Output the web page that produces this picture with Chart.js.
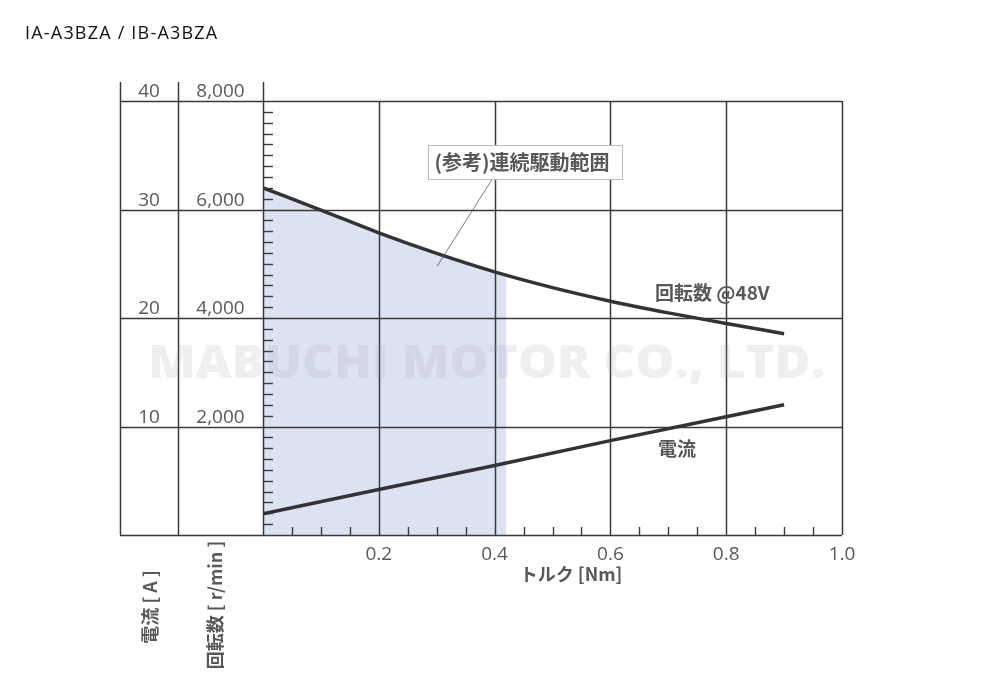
<!DOCTYPE html>
<html lang="ja">
<head>
<meta charset="utf-8">
<title>IA-A3BZA / IB-A3BZA</title>
<script src="https://cdn.jsdelivr.net/npm/chart.js@4.4.1/dist/chart.umd.min.js"></script>
<style>
  html, body { margin: 0; padding: 0; background: #fff; }
  #wrap { position: relative; width: 1000px; height: 692px; }
  #title {
    position: absolute; left: 25px; top: 20px;
    font: 18px 'Open Sans', sans-serif; letter-spacing: 1.2px; color: #111;
  }
  canvas { display: block; }
</style>
</head>
<body>
<div id="wrap">
  <div id="title">IA-A3BZA / IB-A3BZA</div>
  <canvas id="chart" width="1000" height="692"></canvas>
</div>
<script>
// torque [Nm] vs speed [r/min]
const torque = [0, 0.1, 0.2, 0.3, 0.4, 0.5, 0.6, 0.7, 0.8, 0.9];
const speed = [6400, 5990, 5570, 5190, 4850, 4560, 4310, 4095, 3900, 3710];

// torque vs current [A]
const currentTorque = [0, 0.2, 0.4, 0.6, 0.8, 0.9];
const current = [1.95, 4.2, 6.4, 8.7, 10.9, 12.0];

// (参考)連続駆動範囲 : shaded area under the speed curve
const rangeTorque = [0, 0.1, 0.2, 0.3, 0.4, 0.42];
const rangeSpeed = [6400, 5990, 5570, 5190, 4850, 4780];

const torqueTicks = [0.2, 0.4, 0.6, 0.8, 1.0];
const torqueLabels = ['0.2', '0.4', '0.6', '0.8', '1.0'];
const speedTicks = [2000, 4000, 6000, 8000];
const speedLabels = ['2,000', '4,000', '6,000', '8,000'];
const currentTicks = [10, 20, 30, 40];
const currentLabels = ['10', '20', '30', '40'];

const GRID = '#3a3a3a';
const TEXT = '#585858';
const NUM_FONT = "19px 'Open Sans', sans-serif";
const JP_BOLD = (size) => `bold ${size}px 'Noto Sans CJK JP', sans-serif`;

const toPoints = (xs, ys) => xs.map((x, i) => ({ x, y: ys[i] }));

function line(ctx, x1, y1, x2, y2) {
  ctx.beginPath();
  ctx.moveTo(x1, y1);
  ctx.lineTo(x2, y2);
  ctx.stroke();
}

// grid, left value table and minor ticks, drawn just above the shaded range
const gridPlugin = {
  id: 'motorGrid',
  afterDatasetDraw(chart, args) {
    if (args.index !== 0) return;
    const { ctx, chartArea: area, scales } = chart;
    const x = scales.x;
    const y = scales.y;
    const colA = area.left - 143;
    const colB = area.left - 85;
    const head = area.top - 19;

    ctx.save();
    ctx.strokeStyle = GRID;
    ctx.lineWidth = 1.5;

    [0, ...speedTicks].forEach((v) => {
      const py = Math.round(y.getPixelForValue(v)) + 0.5;
      line(ctx, colA, py, x.getPixelForValue(1), py);
    });
    torqueTicks.forEach((v) => {
      const px = Math.round(x.getPixelForValue(v)) + 0.5;
      line(ctx, px, area.top, px, area.bottom);
    });
    [colA, colB, area.left].forEach((px) => line(ctx, px + 0.5, head, px + 0.5, area.bottom));

    // minor ticks
    ctx.lineWidth = 1.4;
    for (let v = 200; v < 8000; v += 200) {
      if (v % 2000 === 0) continue;
      const py = Math.round(y.getPixelForValue(v)) + 0.5;
      line(ctx, area.left, py, area.left + 10, py);
    }
    for (let i = 1; i < 20; i++) {
      if (i % 4 === 0) continue;
      const px = Math.round(x.getPixelForValue(i * 0.05)) + 0.5;
      line(ctx, px, area.bottom, px, area.bottom - 8);
    }

    // tick labels
    ctx.fillStyle = TEXT;
    ctx.font = NUM_FONT;
    ctx.textAlign = 'center';
    ctx.textBaseline = 'middle';
    speedTicks.forEach((v, i) => {
      const py = y.getPixelForValue(v) - 9;
      ctx.fillText(speedLabels[i], (colB + area.left) / 2, py);
      ctx.fillText(currentLabels[i], (colA + colB) / 2, chart.scales.yA.getPixelForValue(currentTicks[i]) - 9);
    });
    torqueTicks.forEach((v, i) => {
      ctx.fillText(torqueLabels[i], x.getPixelForValue(v), area.bottom + 20);
    });

    // axis titles
    ctx.font = JP_BOLD(18);
    ctx.fillText('トルク [Nm]', x.getPixelForValue(0.532), area.bottom + 39);
    ctx.save();
    ctx.translate((colA + colB) / 2 + 1, area.bottom + 72);
    ctx.rotate(-Math.PI / 2);
    ctx.fillText('電流 [ A ]', 0, 0);
    ctx.restore();
    ctx.save();
    ctx.translate((colB + area.left) / 2 - 5, area.bottom + 70);
    ctx.rotate(-Math.PI / 2);
    ctx.fillText('回転数 [ r/min ]', 0, 0);
    ctx.restore();
    ctx.restore();
  },
  afterDraw(chart) {
    const { ctx, scales } = chart;
    const x = scales.x;
    const y = scales.y;
    ctx.save();

    // curve labels
    ctx.fillStyle = TEXT;
    ctx.font = JP_BOLD(19);
    ctx.textAlign = 'left';
    ctx.textBaseline = 'middle';
    ctx.fillText('回転数 @48V', x.getPixelForValue(0.677), y.getPixelForValue(4461));
    ctx.fillText('電流', x.getPixelForValue(0.682), y.getPixelForValue(1585));

    // range callout
    ctx.strokeStyle = '#555';
    ctx.lineWidth = 0.8;
    line(ctx, x.getPixelForValue(0.396), y.getPixelForValue(6562),
      x.getPixelForValue(0.301), y.getPixelForValue(4958));
    const bx = Math.round(x.getPixelForValue(0.285)) + 0.5;
    const by = Math.round(y.getPixelForValue(7189)) + 0.5;
    ctx.fillStyle = '#fff';
    ctx.fillRect(bx, by, 194, 34);
    ctx.strokeStyle = '#bdbdbd';
    ctx.lineWidth = 1;
    ctx.strokeRect(bx, by, 194, 34);
    ctx.fillStyle = TEXT;
    ctx.font = JP_BOLD(20);
    ctx.fillText('(参考)連続駆動範囲', bx + 6, by + 17);

    // watermark
    const wx = x.getPixelForValue(0.386);
    const wy = y.getPixelForValue(3134);
    ctx.font = "800 46px 'Open Sans', sans-serif";
    ctx.textAlign = 'center';
    const w = ctx.measureText('MABUCHI MOTOR CO., LTD.').width;
    ctx.translate(wx, wy);
    ctx.scale(677 / w, 1);
    ctx.fillStyle = 'rgba(150, 150, 168, 0.15)';
    ctx.fillText('MABUCHI MOTOR CO., LTD.', 0, 0);
    ctx.restore();
  },
};

new Chart(document.getElementById('chart'), {
  type: 'line',
  data: {
    datasets: [
      {
        label: '(参考)連続駆動範囲',
        data: toPoints(rangeTorque, rangeSpeed),
        yAxisID: 'y',
        order: 3,
        borderWidth: 0,
        pointRadius: 0,
        backgroundColor: '#dde2f3',
        fill: 'origin',
        cubicInterpolationMode: 'monotone',
      },
      {
        label: '回転数 @48V',
        data: toPoints(torque, speed),
        yAxisID: 'y',
        order: 1,
        borderColor: '#333',
        borderWidth: 3.5,
        pointRadius: 0,
        fill: false,
        cubicInterpolationMode: 'monotone',
      },
      {
        label: '電流',
        data: toPoints(currentTorque, current),
        yAxisID: 'yA',
        order: 1,
        borderColor: '#333',
        borderWidth: 3.5,
        pointRadius: 0,
        fill: false,
      },
    ],
  },
  options: {
    responsive: false,
    animation: false,
    layout: { padding: { left: 263, right: 158, top: 101, bottom: 157 } },
    plugins: { legend: { display: false }, tooltip: { enabled: false } },
    scales: {
      x: { type: 'linear', min: 0, max: 1, display: false },
      y: { min: 0, max: 8000, display: false },
      yA: { min: 0, max: 40, display: false },
    },
  },
  plugins: [gridPlugin],
});
</script>
</body>
</html>
